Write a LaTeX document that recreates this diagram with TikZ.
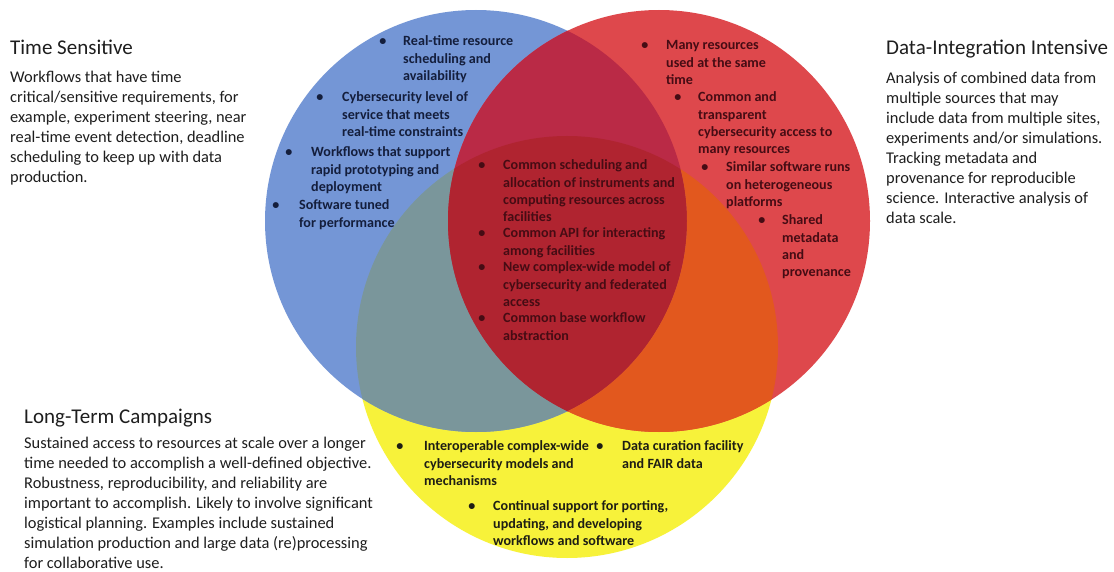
\documentclass[tikz,border=0pt]{standalone}
\usepackage{fontspec}
\setmainfont{Carlito}
\definecolor{cblue}{RGB}{116,150,214}
\definecolor{cred}{RGB}{222,72,76}
\definecolor{cyel}{RGB}{247,242,58}
\definecolor{cby}{RGB}{122,150,155}
\definecolor{cry}{RGB}{226,88,30}
\definecolor{cbr}{RGB}{186,42,70}
\definecolor{cbry}{RGB}{176,36,48}
\definecolor{tblue}{RGB}{20,30,60}
\definecolor{tred}{RGB}{70,12,20}
\definecolor{tyel}{RGB}{30,30,20}
\definecolor{tgray}{RGB}{30,30,30}
\begin{document}
\begin{tikzpicture}[x=1pt,y=-1pt,
  bul/.style={inner sep=0, font=\fontsize{14.1}{17.3}\selectfont\bfseries},
  itm/.style={anchor=north west, inner sep=0, align=left, font=\fontsize{14.1}{17.3}\selectfont\bfseries},
  ttl/.style={anchor=base west, inner sep=0, text=tgray, font=\fontsize{21}{24}\selectfont},
  body/.style={anchor=north west, inner sep=0, align=left, text=tgray, font=\fontsize{16.4}{20}\selectfont}]
\useasboundingbox (0,0) rectangle (1114,572);
\fill[white] (0,0) rectangle (1114,572);
% circles
\fill[cyel] (567,347) circle (211pt);
\fill[cblue] (476,221) circle (211pt);
\fill[cred] (659,221) circle (211pt);
\begin{scope}
  \clip (476,221) circle (211pt);
  \fill[cby] (567,347) circle (211pt);
  \fill[cbr] (659,221) circle (211pt);
  \clip (659,221) circle (211pt);
  \fill[cbry] (567,347) circle (211pt);
\end{scope}
\begin{scope}[even odd rule]
  \clip (659,221) circle (211pt);
  \clip (476,221) circle (211pt) (0,0) rectangle (1114,572);
  \fill[cry] (567,347) circle (211pt);
\end{scope}
% side texts
\node[ttl] (tsT) at (10,55) {Time Sensitive};
\node[body] (tsB) at (10,68.5) {\strut Workflows that have time\\critical/sensitive requirements, for\\example, experiment steering, near\\real-time event detection, deadline\\scheduling to keep up with data\\production.};
\node[ttl] (diT) at (886,55) {Data-Integration Intensive};
\node[body] (diB) at (886,69.5) {\strut Analysis of combined data from\\multiple sources that may\\include data from multiple sites,\\experiments and/or simulations.\\Tracking metadata and\\provenance for reproducible\\science. Interactive analysis of\\data scale.};
\node[ttl] (ltT) at (24,423) {Long-Term Campaigns};
\node[body] (ltB) at (24,434.5) {\strut Sustained access to resources at scale over a longer\\time needed to accomplish a well-defined objective.\\Robustness, reproducibility, and reliability are\\important to accomplish. Likely to involve significant\\logistical planning. Examples include sustained\\simulation production and large data (re)processing\\for collaborative use.};
% blue items
\begin{scope}[every node/.append style={text=tblue}]
\node[bul] (b1b) at (383,42.5) {\textbullet};
\node[itm] (b1) at (403,33.5) {\strut Real-time resource\\scheduling and\\availability};
\node[bul] (b2b) at (320,98.5) {\textbullet};
\node[itm] (b2) at (342,89.5) {\strut Cybersecurity level of\\service that meets\\real-time constraints};
\node[bul] (b3b) at (289,153.5) {\textbullet};
\node[itm] (b3) at (311,144.5) {\strut Workflows that support\\rapid prototyping and\\deployment};
\node[bul] (b4b) at (276,206.5) {\textbullet};
\node[itm] (b4) at (299,197.5) {\strut Software tuned\\for performance};
\end{scope}
% red items
\begin{scope}[every node/.append style={text=tred}]
\node[bul] (r1b) at (645,46.5) {\textbullet};
\node[itm] (r1) at (666,37.5) {\strut Many resources\\used at the same\\time};
\node[bul] (r2b) at (678,98.5) {\textbullet};
\node[itm] (r2) at (698,89.5) {\strut Common and\\transparent\\cybersecurity access to\\many resources};
\node[bul] (r3b) at (705,168.5) {\textbullet};
\node[itm] (r3) at (726,159.5) {\strut Similar software runs\\on heterogeneous\\platforms};
\node[bul] (r4b) at (762,221.5) {\textbullet};
\node[itm] (r4) at (782,212.5) {\strut Shared\\metadata\\and\\provenance};
% center items
\node[bul] (c1b) at (482,166.5) {\textbullet};
\node[itm] (c1) at (503,157.5) {\strut Common scheduling and\\allocation of instruments and\\computing resources across\\facilities};
\node[bul] (c2b) at (482,234.5) {\textbullet};
\node[itm] (c2) at (503,225.5) {\strut Common API for interacting\\among facilities};
\node[bul] (c3b) at (482,268.5) {\textbullet};
\node[itm] (c3) at (503,259.5) {\strut New complex-wide model of\\cybersecurity and federated\\access};
\node[bul] (c4b) at (482,319.5) {\textbullet};
\node[itm] (c4) at (503,310.5) {\strut Common base workflow\\abstraction};
\end{scope}
% yellow items
\begin{scope}[every node/.append style={text=tyel}]
\node[bul] (y1b) at (400,447.5) {\textbullet};
\node[itm] (y1) at (424,438.5) {\strut Interoperable complex-wide\\cybersecurity models and\\mechanisms};
\node[bul] (y2b) at (600,447.5) {\textbullet};
\node[itm] (y2) at (622,438.5) {\strut Data curation facility\\and FAIR data};
\node[bul] (y3b) at (472,507.5) {\textbullet};
\node[itm] (y3) at (493,498.5) {\strut Continual support for porting,\\updating, and developing\\workflows and software};
\end{scope}
\end{tikzpicture}
\end{document}
